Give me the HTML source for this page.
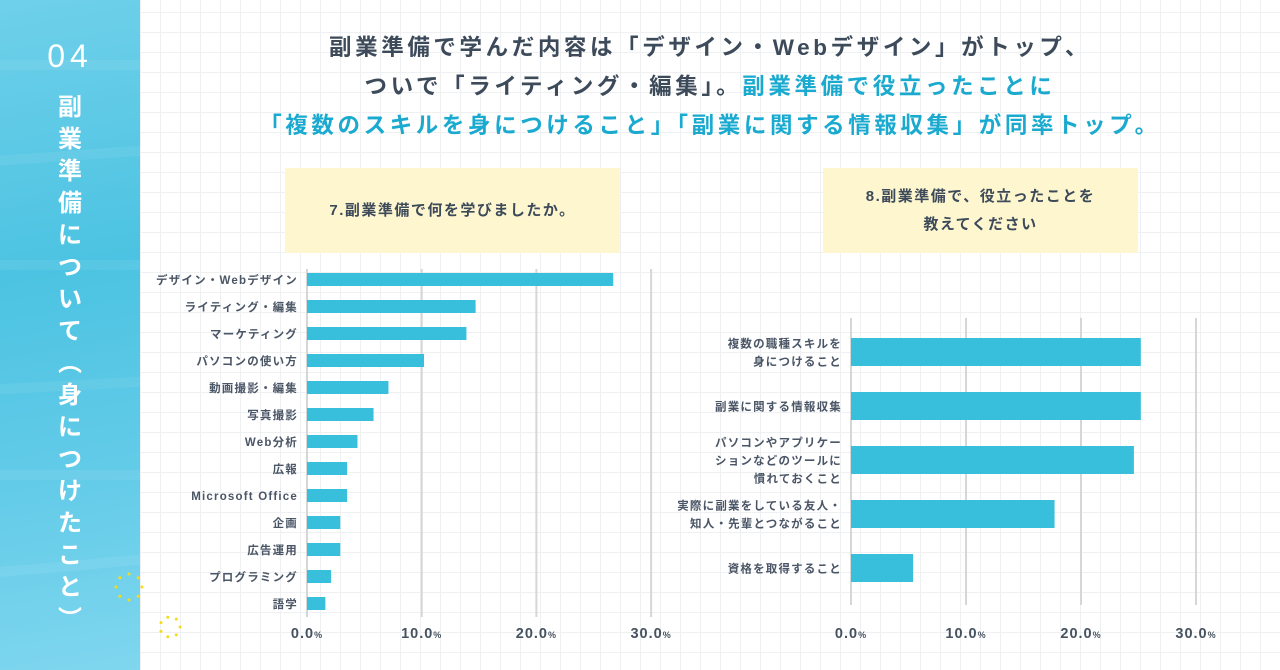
<!DOCTYPE html>
<html><head><meta charset="utf-8">
<style>
*{margin:0;padding:0;box-sizing:border-box}
body{width:1280px;height:670px;overflow:hidden;position:relative;font-family:"Liberation Sans","Noto Sans CJK JP",sans-serif;color:#3d4a5a;
background-color:#fff;background-image:linear-gradient(#eef0f2 1px,transparent 1px),linear-gradient(90deg,#eef0f2 1px,transparent 1px);background-size:20px 20px;background-position:0 12px}
#side{position:absolute;left:0;top:0;width:140px;height:670px;background:linear-gradient(170deg,#6fd0ea 0%,#4cc3e2 40%,#62cbe8 70%,#7fd6ee 100%);overflow:hidden}
#side .st{position:absolute;left:-20px;width:200px;height:10px;background:rgba(255,255,255,0.07);border-radius:5px}
#num{position:absolute;left:0;width:140px;top:38px;text-align:center;color:#fff;font-size:32px;letter-spacing:5px}
#vt{position:absolute;left:55px;top:92px;width:30px;color:#fff;font-size:24px;font-weight:bold;line-height:32px;text-align:center}
#title{position:absolute;left:140px;width:1140px;top:28px;text-align:center;font-size:22.5px;font-weight:bold;line-height:39px;letter-spacing:3.6px;color:#3d4a5a}
#title .c{color:#1aaad0}
.box{position:absolute;background:#fdf6cf;display:flex;align-items:center;justify-content:center;text-align:center;font-size:15px;font-weight:bold;letter-spacing:1.5px;line-height:28px;color:#3d4a5a}
svg{position:absolute;left:0;top:0}
</style></head><body>
<div id="side">
<div class="st" style="top:60px"></div><div class="st" style="top:150px;transform:rotate(-4deg)"></div><div class="st" style="top:260px"></div><div class="st" style="top:380px;transform:rotate(-3deg)"></div><div class="st" style="top:470px"></div><div class="st" style="top:560px;transform:rotate(-5deg)"></div>
<div id="num">04</div>
<div id="vt">副<br>業<br>準<br>備<br>に<br>つ<br>い<br>て<br>︵<br>身<br>に<br>つ<br>け<br>た<br>こ<br>と<br>︶</div>
</div>
<div id="title">副業準備で学んだ内容は「デザイン・Webデザイン」がトップ、<br>ついで「ライティング・編集」。<span class="c">副業準備で役立ったことに</span><br><span class="c">「複数のスキルを身につけること」「副業に関する情報収集」が同率トップ。</span></div>
<div class="box" style="left:285px;top:168px;width:335px;height:85px">7.副業準備で何を学びましたか。</div>
<div class="box" style="left:823px;top:168px;width:315px;height:85px">8.副業準備で、役立ったことを<br>教えてください</div>
<svg id="chart" width="1280" height="670"></svg>
<script>
const leftCats=["デザイン・Webデザイン","ライティング・編集","マーケティング","パソコンの使い方","動画撮影・編集","写真撮影","Web分析","広報","Microsoft Office","企画","広告運用","プログラミング","語学"];
const leftVals=[26.7,14.7,13.9,10.2,7.1,5.8,4.4,3.5,3.5,2.9,2.9,2.1,1.6];
const rightCats=[["複数の職種スキルを","身につけること"],["副業に関する情報収集"],["パソコンやアプリケー","ションなどのツールに","慣れておくこと"],["実際に副業をしている友人・","知人・先輩とつながること"],["資格を取得すること"]];
const rightVals=[25.2,25.2,24.6,17.7,5.4];
const ticks=[0,10,20,30];
const NS="http://www.w3.org/2000/svg";
const svg=document.getElementById('chart');
function mk(t,a){const e=document.createElementNS(NS,t);for(const k in a)e.setAttribute(k,a[k]);svg.appendChild(e);return e;}
function draw(cfg){
  const xs=v=>cfg.x0+v*cfg.k;
  ticks.forEach(t=>{
    const l=mk('line',{x1:xs(t),x2:xs(t),y1:cfg.top,y2:cfg.bot,stroke:'#d4d6d8','stroke-width':2});
    
    
    const tx=mk('text',{x:xs(t),y:638,'text-anchor':'middle','font-size':14.5,'font-weight':'bold',fill:'#46525f','letter-spacing':1});
    tx.textContent=t.toFixed(1);
    const ts=document.createElementNS(NS,'tspan');ts.setAttribute('font-size',9);ts.textContent='%';tx.appendChild(ts);
    
    
  });
  cfg.vals.forEach((v,i)=>{
    const cy=cfg.y0+i*cfg.step;
    const r=mk('rect',{x:xs(0),y:cy-cfg.bh/2,width:xs(v)-xs(0),height:cfg.bh,fill:'#38bfdc'});
    
    
    const lines=Array.isArray(cfg.cats[i])?cfg.cats[i]:[cfg.cats[i]];
    lines.forEach((s,j)=>{
      const tx=mk('text',{x:xs(0)-9,y:cy+4.5+(j-(lines.length-1)/2)*18,'text-anchor':'end','font-size':11.5,'font-weight':'bold',fill:'#4a5566','letter-spacing':1.2});
      tx.textContent=s;
      
      
    });
  });
}
draw({id:'q7',x0:307,k:11.47,top:269,bot:617,y0:279.5,step:27,bh:13,vals:leftVals,cats:leftCats});
draw({id:'q8',x0:851,k:11.5,top:318,bot:605,y0:352,step:54,bh:28,vals:rightVals,cats:rightCats});
function dots(cx,cy,r,n){for(let i=0;i<n;i++){const a=i/n*Math.PI*2;const d=mk('circle',{cx:cx+r*Math.cos(a),cy:cy+r*Math.sin(a),r:1.5,fill:'#f5dc1a'});}}
dots(129,587,13,8);dots(170,627,10,7);
</script>
</body></html>
